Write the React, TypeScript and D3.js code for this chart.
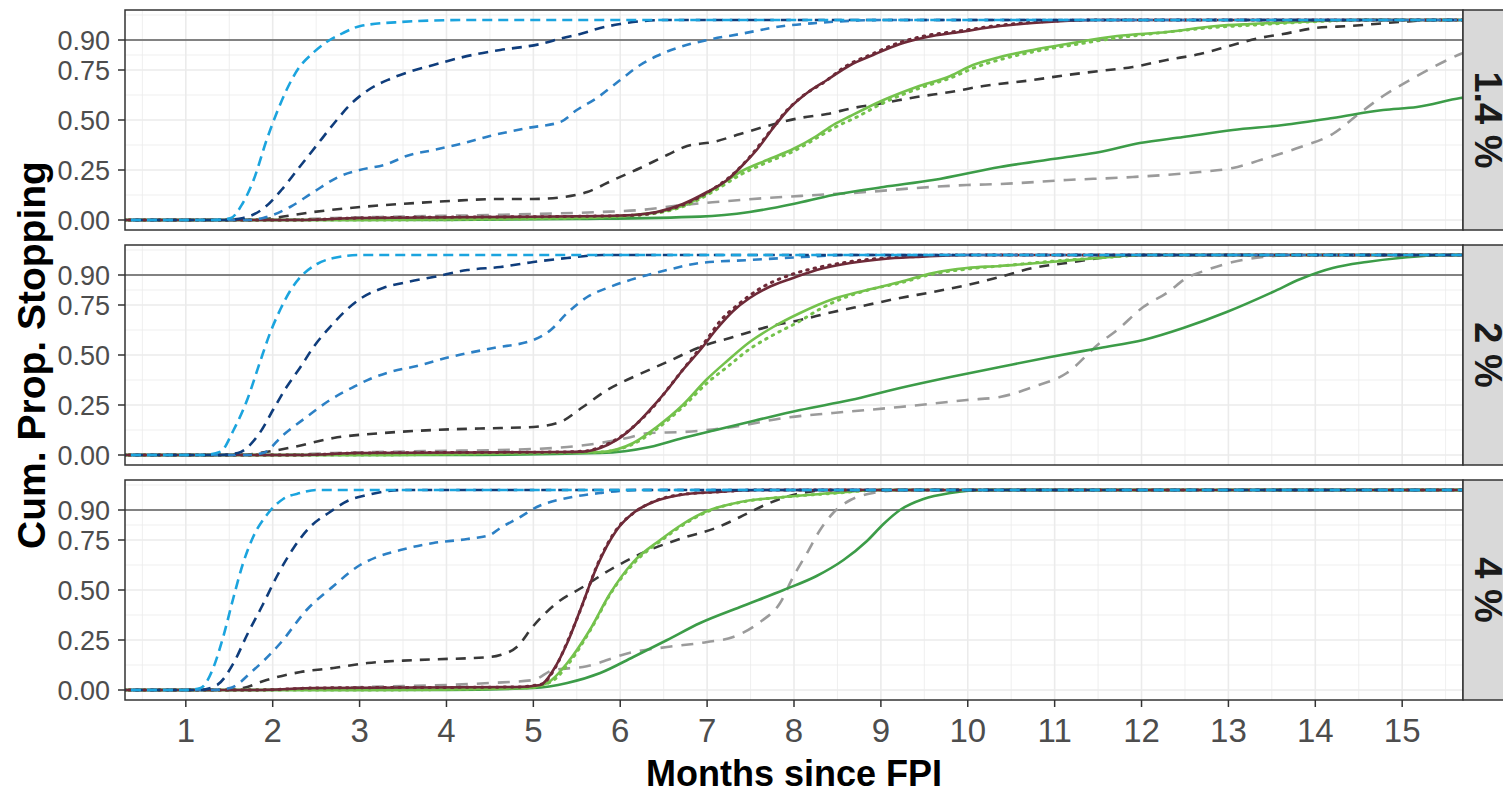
import React, { useEffect, useRef } from 'react';
import * as d3 from 'd3';

type Pt = [number, number];

// ---- panel labels / ticks
const panelLabels = ['1.4 %', '2 %', '4 %'];
const xTicks = [1, 2, 3, 4, 5, 6, 7, 8, 9, 10, 11, 12, 13, 14, 15];
const yTicks = [0, 0.25, 0.5, 0.75, 0.9];
const yTickLabels = ['0.00', '0.25', '0.50', '0.75', '0.90'];
const yMinor = [0.125, 0.375, 0.625, 0.825, 1.025];

// ---- 1.4 % panel  [months, cum. prop.]
const lb14: Pt[] = [[0,0],[1.3,0],[1.51,0.008],[1.65,0.08],[1.78,0.2],[1.93,0.4],[2.05,0.54],[2.17,0.66],[2.3,0.76],[2.45,0.83],[2.62,0.89],[2.81,0.935],[3.01,0.97],[3.47,0.99],[4.2,1],[16,1]];
const nv14: Pt[] = [[0,0],[1.45,0],[1.66,0.01],[1.9,0.06],[2.1,0.15],[2.3,0.26],[2.5,0.37],[2.7,0.48],[2.9,0.58],[3.1,0.65],[3.35,0.705],[3.6,0.745],[3.85,0.775],[4.1,0.805],[4.35,0.83],[4.62,0.85],[5.08,0.88],[5.34,0.91],[5.54,0.93],[5.77,0.96],[6.0,0.98],[6.5,1],[16,1]];
const mb14: Pt[] = [[0,0],[1.7,0],[1.89,0.01],[2.2,0.065],[2.47,0.14],[2.78,0.22],[3.0,0.25],[3.32,0.28],[3.54,0.32],[3.85,0.35],[4.16,0.38],[4.5,0.42],[4.93,0.46],[5.31,0.49],[5.5,0.55],[5.73,0.61],[6.0,0.7],[6.23,0.775],[6.42,0.82],[6.69,0.865],[7.0,0.9],[7.38,0.93],[7.88,0.97],[8.26,0.985],[9,1],[16,1]];
const dg14: Pt[] = [[0,0],[1.8,0],[2.01,0.01],[2.47,0.04],[3.01,0.065],[3.47,0.08],[4.04,0.095],[4.62,0.105],[5.0,0.105],[5.35,0.115],[5.62,0.14],[5.92,0.2],[6.23,0.26],[6.54,0.325],[6.77,0.37],[7.07,0.39],[7.38,0.43],[7.69,0.47],[8.07,0.51],[8.38,0.53],[8.68,0.56],[9.03,0.585],[9.41,0.615],[9.8,0.64],[10.18,0.67],[10.75,0.7],[11.14,0.725],[11.52,0.745],[11.9,0.765],[12.29,0.8],[12.67,0.83],[13.05,0.875],[13.36,0.91],[13.63,0.93],[14.0,0.96],[14.4,0.97],[14.97,0.99],[15.4,1],[16,1]];
const lg14: Pt[] = [[0,0],[2.0,0],[2.7,0.01],[3.47,0.017],[4.5,0.025],[5.0,0.03],[5.77,0.04],[6.23,0.05],[6.72,0.075],[7.1,0.09],[7.69,0.11],[8.26,0.125],[8.84,0.14],[9.41,0.16],[9.99,0.175],[10.37,0.18],[11.14,0.2],[11.9,0.215],[12.67,0.24],[13.05,0.26],[13.44,0.31],[13.83,0.365],[14.2,0.43],[14.5,0.53],[14.78,0.62],[15.09,0.7],[15.36,0.765],[15.67,0.83],[16,0.88]];
const mr14: Pt[] = [[0,0],[2.3,0],[3.0,0.01],[4.5,0.015],[5.77,0.02],[6.15,0.025],[6.42,0.04],[6.72,0.08],[7.0,0.14],[7.23,0.2],[7.4,0.27],[7.57,0.35],[7.76,0.46],[7.95,0.56],[8.15,0.635],[8.38,0.7],[8.65,0.775],[8.91,0.825],[9.22,0.88],[9.53,0.915],[9.91,0.94],[10.37,0.97],[10.75,0.985],[11.5,1],[16,1]];
const mrDot14: Pt[] = [[0,0],[2.3,0],[3.0,0.01],[5.8,0.02],[6.2,0.025],[6.5,0.045],[6.8,0.09],[7.05,0.15],[7.3,0.23],[7.5,0.32],[7.7,0.43],[7.9,0.54],[8.1,0.62],[8.35,0.69],[8.6,0.77],[8.9,0.83],[9.2,0.885],[9.5,0.92],[9.9,0.945],[10.4,0.975],[10.8,0.99],[11.5,1],[16,1]];
const lgr14: Pt[] = [[0,0],[3,0],[5.5,0.01],[6.34,0.033],[6.77,0.08],[7.1,0.16],[7.38,0.24],[7.69,0.3],[7.99,0.355],[8.26,0.42],[8.45,0.475],[8.65,0.52],[9.03,0.6],[9.41,0.665],[9.8,0.72],[10.06,0.775],[10.37,0.815],[10.75,0.85],[11.14,0.88],[11.72,0.92],[12.29,0.94],[12.86,0.97],[13.25,0.98],[13.8,0.99],[14.5,1],[16,1]];
const lgrDot14: Pt[] = [[0,0],[3,0],[5.5,0.01],[6.34,0.03],[6.77,0.075],[7.1,0.15],[7.4,0.23],[7.7,0.29],[8.0,0.345],[8.3,0.42],[8.5,0.47],[8.7,0.51],[9.05,0.59],[9.45,0.66],[9.8,0.71],[10.1,0.765],[10.4,0.805],[10.8,0.845],[11.2,0.875],[11.8,0.915],[12.3,0.94],[12.9,0.965],[13.3,0.975],[13.9,0.99],[14.6,1],[16,1]];
const gr14: Pt[] = [[0,0],[4,0],[5.5,0.005],[6.92,0.017],[7.49,0.04],[7.99,0.08],[8.45,0.125],[9.03,0.165],[9.6,0.2],[10.37,0.265],[11.14,0.315],[11.52,0.34],[11.98,0.385],[12.48,0.415],[13.05,0.45],[13.63,0.475],[14.2,0.51],[14.78,0.55],[15.17,0.565],[15.67,0.61],[16,0.63]];

// ---- 2 % panel
const lb2: Pt[] = [[0,0],[1.2,0],[1.4,0.017],[1.55,0.125],[1.71,0.28],[1.85,0.46],[1.97,0.61],[2.09,0.73],[2.2,0.82],[2.32,0.89],[2.51,0.955],[2.7,0.985],[3.0,1],[16,1]];
const nv2: Pt[] = [[0,0],[1.4,0],[1.6,0.01],[1.85,0.11],[2.01,0.23],[2.16,0.34],[2.32,0.44],[2.47,0.54],[2.66,0.64],[2.86,0.73],[3.04,0.79],[3.27,0.835],[3.55,0.865],[3.85,0.89],[4.24,0.925],[4.62,0.94],[5.0,0.965],[5.39,0.985],[5.8,1],[16,1]];
const mb2: Pt[] = [[0,0],[1.7,0],[1.89,0.01],[2.12,0.1],[2.39,0.19],[2.66,0.275],[2.93,0.34],[3.12,0.38],[3.35,0.415],[3.66,0.445],[4.04,0.49],[4.54,0.535],[5.0,0.575],[5.2,0.625],[5.39,0.71],[5.62,0.79],[5.88,0.84],[6.23,0.89],[6.54,0.925],[6.92,0.96],[7.49,0.975],[8.1,0.99],[8.6,1],[16,1]];
const dg2: Pt[] = [[0,0],[1.65,0],[1.85,0.01],[2.24,0.04],[2.7,0.085],[3.27,0.11],[3.85,0.125],[4.62,0.135],[5.0,0.14],[5.31,0.165],[5.57,0.24],[5.85,0.325],[6.15,0.39],[6.54,0.465],[6.92,0.54],[7.3,0.59],[7.69,0.64],[8.07,0.675],[8.45,0.715],[8.84,0.75],[9.22,0.785],[9.6,0.815],[9.99,0.85],[10.37,0.89],[10.75,0.935],[11.14,0.96],[11.52,0.985],[12,1],[16,1]];
const lg2: Pt[] = [[0,0],[2.0,0],[2.7,0.01],[3.85,0.02],[4.6,0.025],[5.39,0.04],[5.77,0.06],[6.08,0.085],[6.34,0.11],[6.72,0.115],[7.3,0.14],[7.88,0.185],[8.45,0.21],[9.22,0.24],[9.99,0.275],[10.37,0.29],[10.75,0.34],[11.14,0.41],[11.52,0.56],[11.72,0.625],[12.02,0.74],[12.29,0.81],[12.52,0.885],[12.75,0.925],[13.05,0.965],[13.4,0.99],[13.8,1],[16,1]];
const mr2: Pt[] = [[0,0],[2.3,0],[3.0,0.01],[5.3,0.015],[5.57,0.017],[5.77,0.035],[5.96,0.075],[6.15,0.14],[6.34,0.225],[6.54,0.325],[6.72,0.425],[6.92,0.525],[7.11,0.63],[7.3,0.72],[7.49,0.785],[7.69,0.835],[7.99,0.885],[8.26,0.925],[8.65,0.96],[9.03,0.98],[9.4,0.99],[10,1],[16,1]];
const mrDot2: Pt[] = [[0,0],[2.3,0],[3.0,0.01],[5.3,0.015],[5.6,0.02],[5.8,0.045],[6.0,0.09],[6.2,0.16],[6.4,0.25],[6.6,0.36],[6.8,0.47],[7.0,0.58],[7.15,0.67],[7.35,0.75],[7.6,0.83],[7.99,0.905],[8.3,0.94],[8.7,0.97],[9.2,0.99],[9.8,1],[16,1]];
const lgr2: Pt[] = [[0,0],[3,0],[5.0,0.01],[5.77,0.015],[6.15,0.06],[6.42,0.14],[6.72,0.25],[7.0,0.38],[7.23,0.47],[7.49,0.565],[7.76,0.64],[8.07,0.71],[8.45,0.78],[8.84,0.825],[9.22,0.865],[9.6,0.91],[9.99,0.935],[10.37,0.945],[10.95,0.965],[11.5,0.985],[12,1],[16,1]];
const lgrDot2: Pt[] = [[0,0],[3,0],[5.0,0.01],[5.77,0.015],[6.15,0.055],[6.42,0.13],[6.72,0.24],[7.0,0.36],[7.23,0.44],[7.49,0.53],[7.76,0.6],[8.07,0.67],[8.3,0.73],[8.6,0.79],[8.9,0.83],[9.22,0.86],[9.6,0.905],[10.0,0.93],[10.5,0.95],[11.0,0.97],[11.5,0.985],[12.1,1],[16,1]];
const gr2: Pt[] = [[0,0],[4,0],[5.77,0.01],[6.34,0.04],[6.72,0.085],[7.1,0.125],[7.53,0.17],[8.07,0.225],[8.65,0.275],[9.22,0.335],[9.8,0.39],[10.37,0.44],[10.95,0.49],[11.52,0.535],[12.02,0.575],[12.48,0.635],[12.98,0.715],[13.51,0.815],[13.83,0.88],[14.2,0.935],[14.59,0.965],[14.97,0.985],[15.5,1],[16,1]];

// ---- 4 % panel
const lb4: Pt[] = [[0,0],[1.0,0],[1.17,0.01],[1.32,0.115],[1.43,0.265],[1.55,0.465],[1.66,0.635],[1.78,0.77],[1.94,0.88],[2.12,0.955],[2.32,0.985],[2.5,1],[16,1]];
const nv4: Pt[] = [[0,0],[1.15,0],[1.36,0.025],[1.55,0.135],[1.71,0.28],[1.89,0.43],[2.05,0.57],[2.24,0.71],[2.43,0.815],[2.66,0.89],[2.86,0.945],[3.09,0.975],[3.5,1],[16,1]];
const mb4: Pt[] = [[0,0],[1.3,0],[1.51,0.01],[1.78,0.1],[2.09,0.235],[2.39,0.4],[2.7,0.52],[2.97,0.615],[3.2,0.665],[3.47,0.7],[3.85,0.735],[4.24,0.755],[4.5,0.775],[4.62,0.81],[4.85,0.865],[5.04,0.915],[5.39,0.96],[5.77,0.985],[6.2,1],[16,1]];
const dg4: Pt[] = [[0,0],[1.45,0],[1.66,0.01],[1.93,0.05],[2.32,0.09],[2.7,0.11],[3.09,0.135],[3.66,0.15],[4.5,0.165],[4.62,0.175],[4.81,0.215],[5.0,0.32],[5.27,0.435],[5.57,0.515],[5.88,0.6],[6.23,0.68],[6.72,0.76],[7.1,0.81],[7.38,0.865],[7.69,0.93],[7.99,0.975],[8.4,1],[16,1]];
const lg4: Pt[] = [[0,0],[1.8,0],[3.1,0.015],[4.5,0.035],[5.0,0.05],[5.23,0.1],[5.57,0.115],[6.15,0.19],[6.54,0.215],[7.0,0.24],[7.3,0.265],[7.61,0.34],[7.84,0.435],[7.99,0.565],[8.15,0.685],[8.3,0.8],[8.45,0.885],[8.65,0.95],[8.91,0.985],[9.3,1],[16,1]];
const mr4: Pt[] = [[0,0],[1.8,0],[2.5,0.01],[4.8,0.015],[5.08,0.025],[5.23,0.1],[5.39,0.235],[5.54,0.4],[5.73,0.615],[5.96,0.8],[6.15,0.885],[6.38,0.94],[6.69,0.975],[7.1,0.99],[7.6,1],[16,1]];
const mrDot4: Pt[] = [[0,0],[1.8,0],[2.5,0.01],[4.8,0.015],[5.1,0.03],[5.25,0.11],[5.4,0.25],[5.56,0.42],[5.74,0.63],[5.97,0.81],[6.17,0.89],[6.4,0.945],[6.7,0.977],[7.1,0.99],[7.6,1],[16,1]];
const lgr4: Pt[] = [[0,0],[3,0],[4.9,0.01],[5.16,0.035],[5.39,0.135],[5.65,0.3],[5.88,0.48],[6.15,0.64],[6.46,0.75],[6.72,0.83],[7.0,0.895],[7.38,0.94],[7.88,0.965],[8.45,0.985],[9,1],[16,1]];
const lgrDot4: Pt[] = [[0,0],[3,0],[4.9,0.01],[5.2,0.04],[5.42,0.14],[5.67,0.31],[5.9,0.49],[6.17,0.64],[6.48,0.75],[6.74,0.83],[7.02,0.895],[7.4,0.94],[7.9,0.965],[8.5,0.985],[9,1],[16,1]];
const gr4: Pt[] = [[0,0],[4,0],[5.0,0.01],[5.39,0.035],[5.77,0.085],[6.15,0.165],[6.54,0.25],[6.92,0.335],[7.38,0.415],[7.88,0.5],[8.26,0.57],[8.57,0.65],[8.84,0.745],[9.03,0.83],[9.22,0.9],[9.49,0.955],[9.8,0.985],[10.2,1],[16,1]];

// line styles, in drawing order
const styles = [
  { key: 'lg', color: '#9b9b9b', dash: '12,9', w: 2.6 },
  { key: 'dg', color: '#383838', dash: '10,8', w: 2.6 },
  { key: 'gr', color: '#3c9c48', dash: null, w: 2.6 },
  { key: 'lgrDot', color: '#74c24c', dash: '1.5,6', w: 3 },
  { key: 'lgr', color: '#74c24c', dash: null, w: 2.6 },
  { key: 'mrDot', color: '#6e2a38', dash: '1.5,6', w: 3 },
  { key: 'mr', color: '#6e2a38', dash: null, w: 2.6 },
  { key: 'mb', color: '#2c80c5', dash: '9,7', w: 2.6 },
  { key: 'nv', color: '#0f3d7c', dash: '10,7', w: 2.6 },
  { key: 'lb', color: '#1ba4de', dash: '10,6', w: 2.6 },
];

const panelData: Record<string, Pt[]>[] = [
  { lb: lb14, nv: nv14, mb: mb14, dg: dg14, lg: lg14, mr: mr14, mrDot: mrDot14, lgr: lgr14, lgrDot: lgrDot14, gr: gr14 },
  { lb: lb2, nv: nv2, mb: mb2, dg: dg2, lg: lg2, mr: mr2, mrDot: mrDot2, lgr: lgr2, lgrDot: lgrDot2, gr: gr2 },
  { lb: lb4, nv: nv4, mb: mb4, dg: dg4, lg: lg4, mr: mr4, mrDot: mrDot4, lgr: lgr4, lgrDot: lgrDot4, gr: gr4 },
];

export default function App() {
  const ref = useRef<SVGSVGElement>(null);

  useEffect(() => {
    const left = 125, right = 1463, panelH = 220;
    const tops = [10, 245, 480];
    const font = 'Liberation Sans, Arial, sans-serif';
    const svg = d3.select(ref.current);
    svg.selectAll('*').remove();

    const x = d3.scaleLinear().domain([0.3, 15.7]).range([left, right]);
    const xMinor = d3.range(0.5, 16, 1);

    tops.forEach((top, pi) => {
      const y = d3.scaleLinear().domain([-0.05, 1.05]).range([top + panelH, top]);
      const g = svg.append('g');

      g.append('rect').attr('x', left).attr('y', top).attr('width', right - left).attr('height', panelH).attr('fill', 'white');

      // grid
      g.selectAll('.ymin').data(yMinor).join('line')
        .attr('x1', left).attr('x2', right).attr('y1', d => y(d)).attr('y2', d => y(d))
        .attr('stroke', '#ebebeb').attr('stroke-width', 0.8);
      g.selectAll('.xmin').data(xMinor).join('line')
        .attr('x1', d => x(d)).attr('x2', d => x(d)).attr('y1', top).attr('y2', top + panelH)
        .attr('stroke', '#ebebeb').attr('stroke-width', 0.8);
      g.selectAll('.ymaj').data(yTicks).join('line')
        .attr('x1', left).attr('x2', right).attr('y1', d => y(d)).attr('y2', d => y(d))
        .attr('stroke', '#ebebeb').attr('stroke-width', 1.6);
      g.selectAll('.xmaj').data(xTicks).join('line')
        .attr('x1', d => x(d)).attr('x2', d => x(d)).attr('y1', top).attr('y2', top + panelH)
        .attr('stroke', '#ebebeb').attr('stroke-width', 1.6);

      // 0.9 reference line
      g.append('line').attr('x1', left).attr('x2', right).attr('y1', y(0.9)).attr('y2', y(0.9))
        .attr('stroke', '#5e5e5e').attr('stroke-width', 1.4);

      const clipId = 'clip' + pi;
      svg.append('clipPath').attr('id', clipId).append('rect')
        .attr('x', left).attr('y', top).attr('width', right - left).attr('height', panelH);

      const line = d3.line<Pt>().x(d => x(d[0])).y(d => y(d[1])).curve(d3.curveMonotoneX);
      const lines = g.append('g').attr('clip-path', `url(#${clipId})`);
      styles.forEach(s => {
        lines.append('path')
          .attr('d', line(panelData[pi][s.key]))
          .attr('fill', 'none')
          .attr('stroke', s.color)
          .attr('stroke-width', s.w)
          .attr('stroke-dasharray', s.dash)
          .attr('stroke-linecap', s.dash === '1.5,6' ? 'round' : 'butt');
      });

      // border
      g.append('rect').attr('x', left).attr('y', top).attr('width', right - left).attr('height', panelH)
        .attr('fill', 'none').attr('stroke', '#333333').attr('stroke-width', 1.5);

      // y axis
      g.selectAll('.ytick').data(yTicks).join('line')
        .attr('x1', left - 7).attr('x2', left).attr('y1', d => y(d)).attr('y2', d => y(d))
        .attr('stroke', '#333333').attr('stroke-width', 1.5);
      g.selectAll('.ylab').data(yTicks).join('text')
        .attr('x', 110).attr('y', d => y(d)).attr('dy', '0.36em')
        .attr('text-anchor', 'end').attr('font-family', font)
        .attr('font-size', 27).attr('fill', '#4d4d4d')
        .text((d, i) => yTickLabels[i]);

      // strip
      g.append('rect').attr('x', right).attr('y', top).attr('width', 60).attr('height', panelH)
        .attr('fill', '#d9d9d9').attr('stroke', '#333333').attr('stroke-width', 1.5);
      g.append('text')
        .attr('transform', `translate(1475,${top + panelH / 2}) rotate(90)`)
        .attr('text-anchor', 'middle').attr('font-family', font)
        .attr('font-weight', 'bold').attr('font-size', 38).attr('fill', '#1a1a1a')
        .text(panelLabels[pi]);
    });

    // x axis on bottom panel
    const bottom = tops[2] + panelH;
    svg.selectAll('.xtick').data(xTicks).join('line')
      .attr('x1', d => x(d)).attr('x2', d => x(d)).attr('y1', bottom).attr('y2', bottom + 7)
      .attr('stroke', '#333333').attr('stroke-width', 1.5);
    svg.selectAll('.xlab').data(xTicks).join('text')
      .attr('x', d => x(d)).attr('y', 742)
      .attr('text-anchor', 'middle').attr('font-family', font)
      .attr('font-size', 33).attr('fill', '#4d4d4d')
      .text(d => String(d));

    svg.append('text')
      .attr('x', (left + right) / 2).attr('y', 786)
      .attr('text-anchor', 'middle').attr('font-family', font)
      .attr('font-weight', 'bold').attr('font-size', 36).attr('fill', 'black')
      .text('Months since FPI');

    svg.append('text')
      .attr('transform', `translate(45,${(tops[0] + bottom) / 2}) rotate(-90)`)
      .attr('text-anchor', 'middle').attr('font-family', font)
      .attr('font-weight', 'bold').attr('font-size', 39).attr('fill', 'black')
      .text('Cum. Prop. Stopping');
  }, []);

  return (
    <div style={{ position: 'absolute', left: 0, top: 0, background: 'white' }}>
      <svg ref={ref} width={1503} height={790} style={{ display: 'block' }} />
    </div>
  );
}
